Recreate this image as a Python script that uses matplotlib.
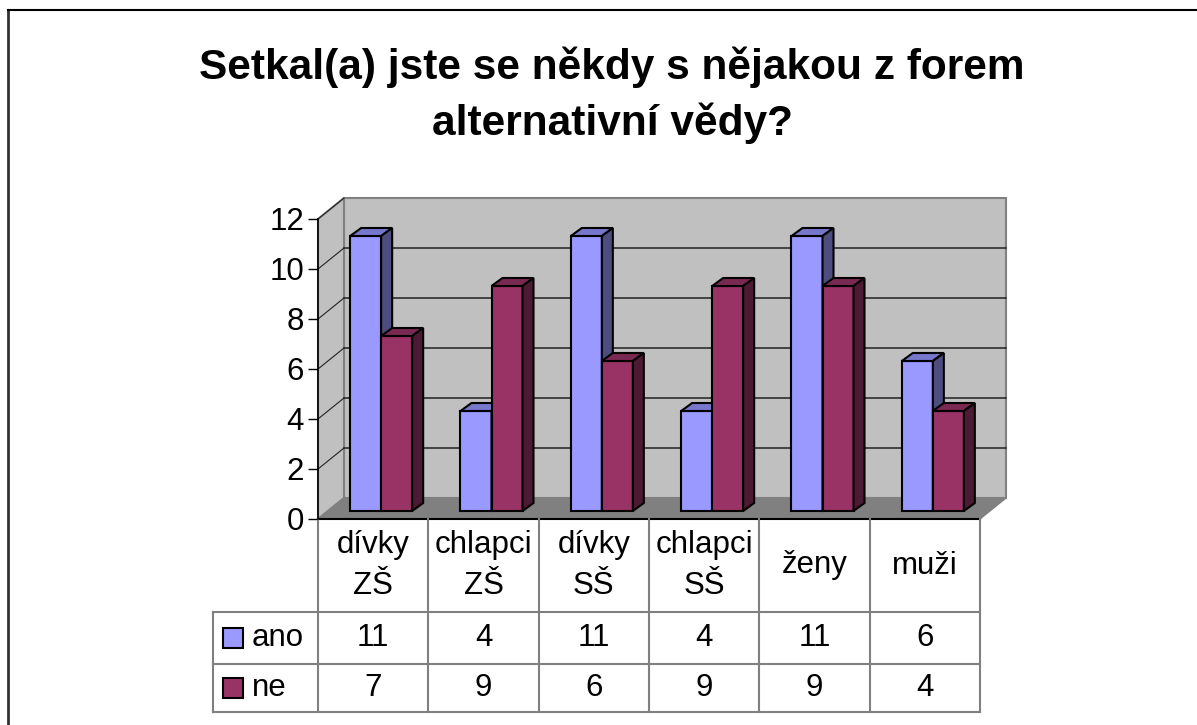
import matplotlib
matplotlib.use("Agg")
import matplotlib.pyplot as plt
from matplotlib.patches import Polygon, Rectangle
from matplotlib.lines import Line2D

plt.rcParams['font.family'] = ['Liberation Sans', 'DejaVu Sans']

# ---- data ----
categories = ["dívky\nZŠ", "chlapci\nZŠ", "dívky\nSŠ", "chlapci\nSŠ", "ženy", "muži"]
series_names = ["ano", "ne"]
ano = [11, 4, 11, 4, 11, 6]
ne = [7, 9, 6, 9, 9, 4]
yticks = [0, 2, 4, 6, 8, 10, 12]
title = "Setkal(a) jste se někdy s nějakou z forem\nalternativní vědy?"

# ---- style ----
front_col = {"ano": "#9999FF", "ne": "#993366"}
top_col = {"ano": "#7777CC", "ne": "#7A2952"}
side_col = {"ano": "#4D4D80", "ne": "#4D1A33"}
wall_col = "#C0C0C0"
floor_col = "#808080"
edge_gray = "#808080"

W, H = 1197, 725
fig = plt.figure(figsize=(W / 100, H / 100), dpi=100)
ax = fig.add_axes([318 / W, (H - 519) / H, 662 / W, 300 / H])
n = len(categories)
ymax = 12
ax.set_xlim(0, n)
ax.set_ylim(0, ymax)

# depth offsets (data units)
wdx, wdy = 26 / 110.33, 21 / 25      # back wall
bdx, bdy = 8 / 110.33, 8 / 25        # bar plane
ddx, ddy = 11 / 110.33, 8 / 25       # bar depth
bw = 0.281                            # bar width

# walls and floor
ax.add_patch(Polygon([(wdx, wdy), (n + wdx, wdy), (n + wdx, ymax + wdy), (wdx, ymax + wdy)],
                     closed=True, fc=wall_col, ec=edge_gray, lw=1.5, clip_on=False, zorder=1))
ax.add_patch(Polygon([(0, 0), (wdx, wdy), (wdx, ymax + wdy), (0, ymax)],
                     closed=True, fc=wall_col, ec=edge_gray, lw=1.5, clip_on=False, zorder=1))
ax.add_patch(Polygon([(0, 0), (n, 0), (n + wdx, wdy), (wdx, wdy)],
                     closed=True, fc=floor_col, ec=edge_gray, lw=1.0, clip_on=False, zorder=1.5))
for v in yticks[1:-1]:
    ax.plot([wdx, n + wdx], [v + wdy, v + wdy], color="#222222", lw=1.1, zorder=1.2, clip_on=False)
for v in yticks[1:]:
    ax.plot([0, wdx], [v, v + wdy], color="#222222", lw=0.8, zorder=1.2, clip_on=False)

# bars
for i in range(n):
    c = i + 0.5 + bdx
    for j, (name, vals) in enumerate(zip(series_names, [ano, ne])):
        x0 = c - bw + j * bw
        x1 = x0 + bw
        b = bdy
        t = vals[i] + bdy
        z = 3 + i + j * 0.1
        ax.add_patch(Polygon([(x0, b), (x1, b), (x1, t), (x0, t)], closed=True,
                             fc=front_col[name], ec="black", lw=1.5, zorder=z, clip_on=False))
        ax.add_patch(Polygon([(x0, t), (x1, t), (x1 + ddx, t + ddy), (x0 + ddx, t + ddy)], closed=True,
                             fc=top_col[name], ec="black", lw=1.5, zorder=z, clip_on=False))
        ax.add_patch(Polygon([(x1, b), (x1 + ddx, b + ddy), (x1 + ddx, t + ddy), (x1, t)], closed=True,
                             fc=side_col[name], ec="black", lw=1.5, zorder=z, clip_on=False))

# axes styling
for s in ["top", "right", "bottom"]:
    ax.spines[s].set_visible(False)
ax.spines["left"].set_color("black")
ax.spines["left"].set_linewidth(1.2)
ax.spines["left"].set_zorder(2)
ax.set_yticks(yticks)
ax.set_yticklabels([str(v) for v in yticks], fontsize=22.5)
ax.tick_params(axis="y", direction="out", length=7, width=1.0, pad=3)
ax.set_xticks([])
ax.patch.set_visible(False)
ax.plot([0, n], [0, 0], color="black", lw=1.5, zorder=2, clip_on=False)

# data table
hdr_b = -(612 - 519) / 25
r1_b = -(664 - 519) / 25
r2_b = -(712 - 519) / 25
lx = (213 - 318) / 110.33
tl = dict(color=edge_gray, lw=1.5, clip_on=False, zorder=2)
for k in range(1, n + 1):
    ax.plot([k, k], [0, r2_b], **tl)
ax.plot([0, 0], [0, r2_b], **tl)
ax.plot([lx, n], [hdr_b, hdr_b], **tl)
ax.plot([lx, n], [r1_b, r1_b], **tl)
ax.plot([lx, n], [r2_b, r2_b], **tl)
ax.plot([lx, lx], [hdr_b, r2_b], **tl)

for i, cat in enumerate(categories):
    ax.text(i + 0.5, hdr_b / 2, cat, ha="center", va="center", fontsize=22.5,
            linespacing=1.5, clip_on=False)
    ax.text(i + 0.5, (hdr_b + r1_b) / 2, str(ano[i]), ha="center", va="center", fontsize=22.5)
    ax.text(i + 0.5, (r1_b + r2_b) / 2, str(ne[i]), ha="center", va="center", fontsize=22.5)

kx0 = (223 - 318) / 110.33
kw = 20 / 110.33
kh = 20 / 25
for j, (name, yc) in enumerate(zip(series_names, [(hdr_b + r1_b) / 2, (r1_b + r2_b) / 2])):
    ax.add_patch(Rectangle((kx0, yc - kh / 2), kw, kh, fc=front_col[name], ec="black", lw=1.5,
                           clip_on=False, zorder=3))
    ax.text((252 - 318) / 110.33, yc, name, ha="left", va="center", fontsize=22.5)

# title
fig.text(612 / W, 1 - 95 / H, title, ha="center", va="center", fontsize=30.5,
         fontweight="bold", linespacing=1.45)

# outer chart frame
fig.add_artist(Line2D([8 / W, 8 / W], [0, 1 - 10 / H], transform=fig.transFigure, color="#333333", lw=2))
fig.add_artist(Line2D([8 / W, 1], [1 - 10 / H, 1 - 10 / H], transform=fig.transFigure, color="black", lw=1.5))

fig.savefig("out.png", dpi=100)
